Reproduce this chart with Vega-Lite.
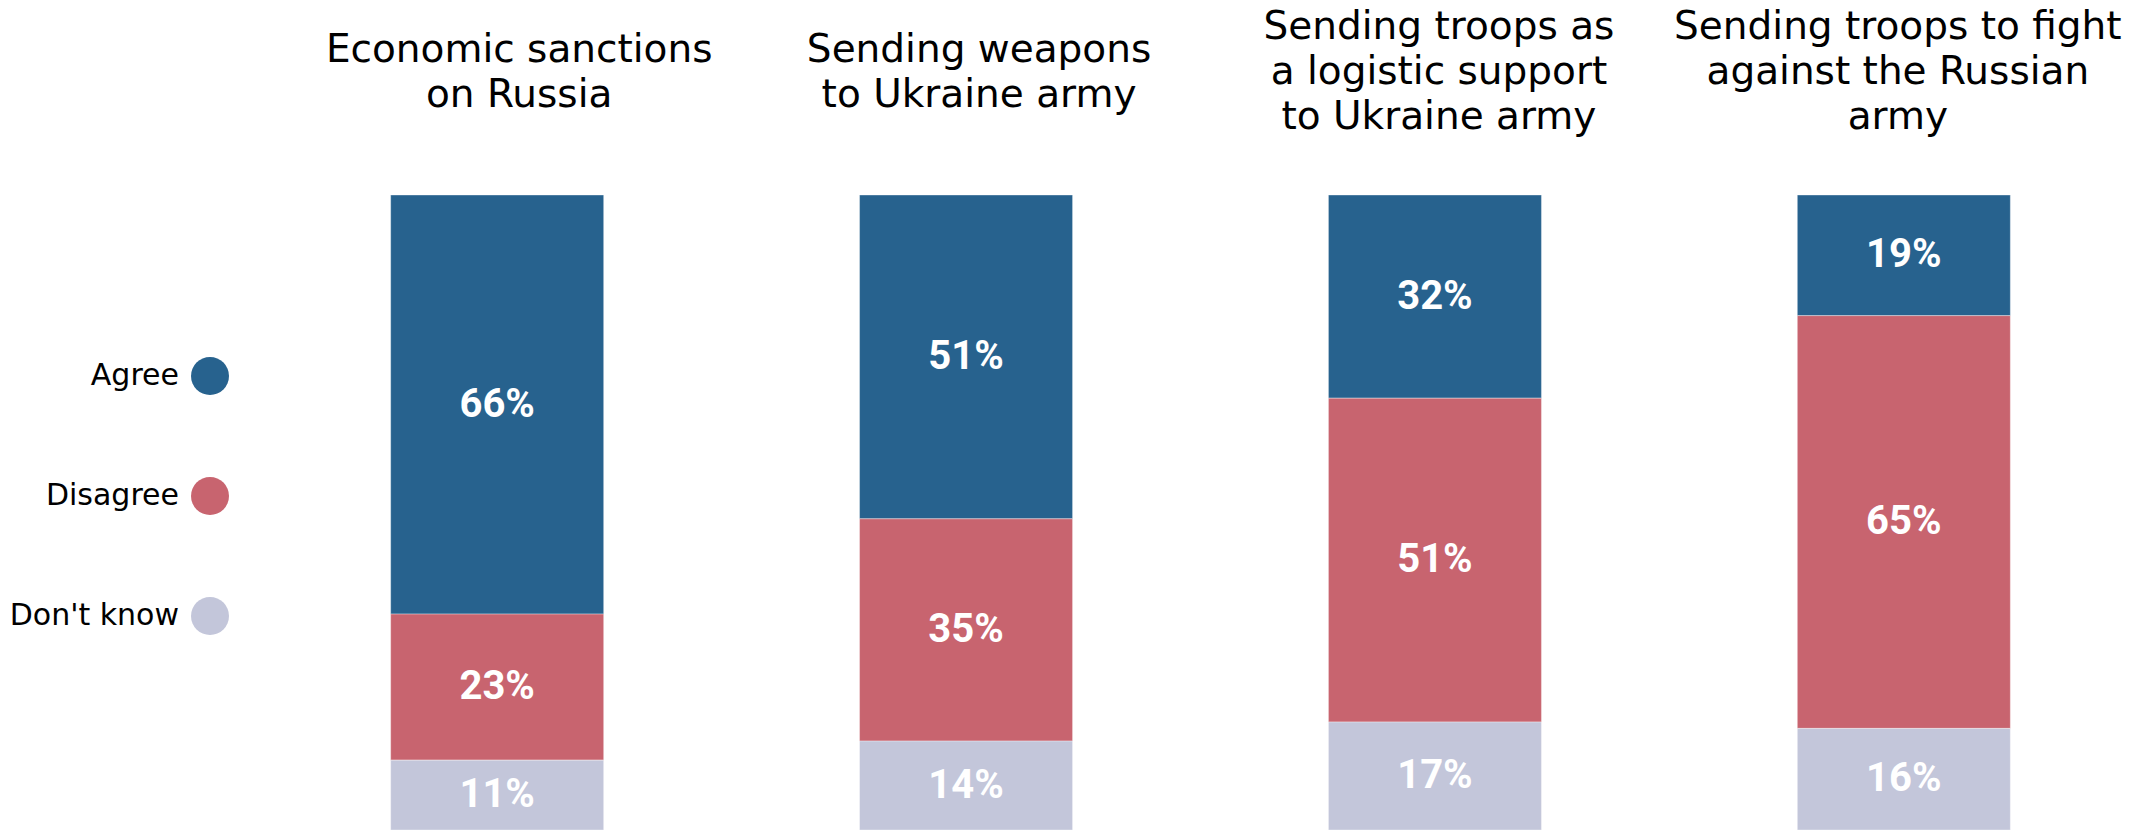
{
  "$schema": "https://vega.github.io/schema/vega-lite/v6.json",
  "width": 1901,
  "height": 635,
  "autosize": {"type": "none"},
  "padding": {"left": 250, "top": 195, "right": 3, "bottom": 0},
  "background": "white",
  "config": {"view": {"stroke": null}},
  "data": {
    "values": [
      {"question": "Economic sanctions\non Russia", "response": "Agree", "value": 0.66},
      {"question": "Economic sanctions\non Russia", "response": "Disagree", "value": 0.23},
      {"question": "Economic sanctions\non Russia", "response": "Don't know", "value": 0.11},
      {"question": "Sending weapons\nto Ukraine army", "response": "Agree", "value": 0.51},
      {"question": "Sending weapons\nto Ukraine army", "response": "Disagree", "value": 0.35},
      {"question": "Sending weapons\nto Ukraine army", "response": "Don't know", "value": 0.14},
      {"question": "Sending troops as\na logistic support\nto Ukraine army", "response": "Agree", "value": 0.32},
      {"question": "Sending troops as\na logistic support\nto Ukraine army", "response": "Disagree", "value": 0.51},
      {"question": "Sending troops as\na logistic support\nto Ukraine army", "response": "Don't know", "value": 0.17},
      {"question": "Sending troops to fight\nagainst the Russian\narmy", "response": "Agree", "value": 0.19},
      {"question": "Sending troops to fight\nagainst the Russian\narmy", "response": "Disagree", "value": 0.65},
      {"question": "Sending troops to fight\nagainst the Russian\narmy", "response": "Don't know", "value": 0.16}
    ]
  },
  "transform": [
    {"stack": "value", "groupby": ["question"], "sort": [{"field": "response", "order": "descending"}], "as": ["v0", "v1"]},
    {"calculate": "(datum.v0 + datum.v1) / 2", "as": "vmid"}
  ],
  "encoding": {
    "x": {
      "field": "question",
      "type": "nominal",
      "sort": null,
      "scale": {"paddingInner": 0.5457, "paddingOuter": 0.3},
      "axis": {
        "orient": "top",
        "title": null,
        "domain": false,
        "ticks": false,
        "grid": false,
        "labelAngle": 0,
        "labelAlign": "center",
        "labelBaseline": "middle",
        "labelPadding": {"condition": {"test": "length(split(datum.label, '\\n')) > 2", "value": 169}, "value": 146},
        "labelOffset": {
          "condition": [
            {"test": "indexof(datum.label, 'Economic') >= 0", "value": 22},
            {"test": "indexof(datum.label, 'weapons') >= 0", "value": 13},
            {"test": "indexof(datum.label, 'logistic') >= 0", "value": 4}
          ],
          "value": -6
        },
        "labelFont": "DejaVu Sans",
        "labelFontSize": 39,
        "labelFontWeight": 400,
        "labelColor": "#000000",
        "labelLineHeight": 45,
        "labelLimit": 0,
        "labelExpr": "split(datum.label, '\\n')"
      }
    }
  },
  "layer": [
    {
      "mark": {"type": "bar", "stroke": "#ffffff", "strokeWidth": 0.6, "strokeOpacity": 0.6},
      "encoding": {
        "y": {"field": "v0", "type": "quantitative", "scale": {"domain": [0, 1], "nice": false, "zero": true}, "axis": null},
        "y2": {"field": "v1"},
        "color": {
          "field": "response",
          "type": "nominal",
          "scale": {"domain": ["Agree", "Disagree", "Don't know"], "range": ["#27628e", "#c8646f", "#c3c6da"]},
          "legend": {
            "orient": "none",
            "legendX": -59,
            "legendY": 162,
            "title": null,
            "padding": 0,
            "symbolType": "circle",
            "symbolSize": 1444,
            "symbolStrokeWidth": 0,
            "symbolOpacity": 1,
            "labelFont": "DejaVu Sans",
            "labelFontSize": 30,
            "labelColor": "#000000",
            "labelAlign": "right",
            "labelOffset": -50,
            "rowPadding": 82,
            "labelLimit": 0
          }
        }
      }
    },
    {
      "mark": {"type": "text", "font": "Roboto", "fontWeight": "bold", "fontSize": 40, "color": "#ffffff", "baseline": "middle", "align": "center"},
      "encoding": {
        "y": {"field": "vmid", "type": "quantitative"},
        "text": {"field": "value", "type": "quantitative", "format": ".0%"}
      }
    }
  ]
}
